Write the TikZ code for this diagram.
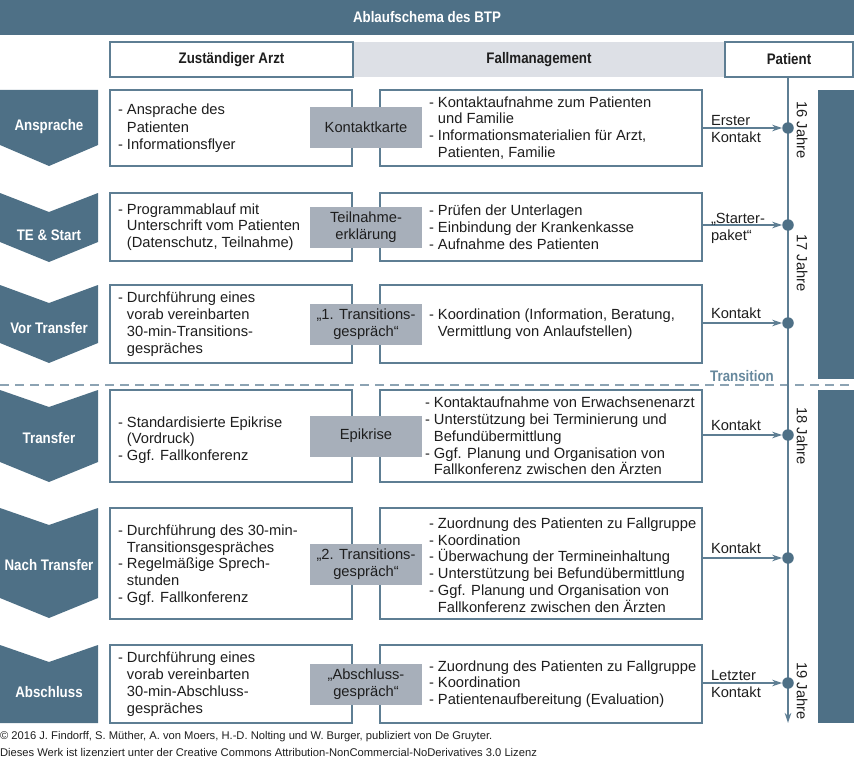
\documentclass[tikz,border=0pt]{standalone}
\usepackage{fontspec}
\setmainfont{Liberation Sans}
\newfontfamily\condf[FakeStretch=0.87]{Liberation Sans}
\usetikzlibrary{arrows.meta}
\definecolor{sb}{HTML}{4E7086}
\definecolor{bordc}{HTML}{5E7E93}
\definecolor{labgray}{HTML}{A7AFBA}
\definecolor{bandgray}{HTML}{DDE0E6}
\definecolor{dashc}{HTML}{8CA3B3}
\definecolor{transc}{HTML}{66889D}
\definecolor{txtc}{HTML}{1E1E1E}
\newcommand\bodyf{\fontsize{14.7}{16.8}\selectfont}
\newcommand\headf{\condf\bfseries\fontsize{15.3}{17}\selectfont}
\newcommand\footf{\fontsize{11.2}{12}\selectfont}
\newcommand\ind{\hphantom{-\ }}
\begin{document}
\begin{tikzpicture}[x=1pt,y=-1pt,
  every node/.style={inner sep=0pt, outer sep=0pt, text=txtc},
  box/.style={draw=bordc, line width=1.1pt, fill=white, anchor=north west},
  lbl/.style={fill=labgray, minimum width=112pt, minimum height=41pt, align=center, font=\bodyf},
  txt/.style={anchor=west, align=left, font=\bodyf},
  chevf/.style={font=\headf, text=white},
  dot/.style={circle, fill=sb, minimum size=11.5pt},
  arr/.style={draw=bordc, line width=1.1pt, -{Stealth[length=10pt,width=6.5pt]}},
  agef/.style={font=\bodyf, rotate=-90},
  klbl/.style={font=\bodyf, align=left}]
\useasboundingbox (0,0) rectangle (854,765);

% title
\fill[sb] (0,0) rectangle (854,35);
\node[font=\headf, text=white] (title) at (427,17.5) {Ablaufschema des BTP};

% header
\fill[bandgray] (353,42) rectangle (725,77);
\node[box, minimum width=243pt, minimum height=35pt, font=\headf] (hA) at (110,42) {Zuständiger Arzt};
\node[font=\headf] (hF) at (539,59.5) {Fallmanagement};
\node[box, minimum width=128pt, minimum height=35pt, font=\headf] (Pat) at (725,42) {Patient};

% right dark bars
\fill[sb] (818,90) rectangle (854,379);
\fill[sb] (818,390) rectangle (854,723);

% dashed transition line
\draw[dashc, line width=1.5pt, dash pattern=on 9pt off 6pt] (0,385) -- (854,385);
\node[font=\headf, text=transc] (trans) at (742,376) {Transition};

% timeline
\coordinate (vend) at (788,723);
\draw[draw=bordc, line width=1.1pt, -{Stealth[length=10pt,width=6.5pt]}] (Pat.south -| vend) -- (vend);

% chevrons
\fill[sb] (0,90) -- (98,90) -- (98,145) -- (49,166) -- (0,145) -- cycle;
\node[chevf] (c1) at (49,127) {Ansprache};
\fill[sb] (0,193) -- (49,212) -- (98,193) -- (98,242) -- (49,262) -- (0,242) -- cycle;
\node[chevf] (c2) at (49,235) {TE \& Start};
\fill[sb] (0,285) -- (49,303) -- (98,285) -- (98,343) -- (49,363) -- (0,343) -- cycle;
\node[chevf] (c3) at (49,328) {Vor Transfer};
\fill[sb] (0,390) -- (49,407) -- (98,390) -- (98,462) -- (49,482) -- (0,462) -- cycle;
\node[chevf] (c5) at (49,438) {Transfer};
\fill[sb] (0,508) -- (49,525) -- (98,508) -- (98,598) -- (49,618) -- (0,598) -- cycle;
\node[chevf] (c6) at (49,565) {Nach Transfer};
\fill[sb] (0,645) -- (49,662) -- (98,645) -- (98,723) -- (0,723) -- cycle;
\node[chevf] (c7) at (49,692) {Abschluss};

% ---------- row 1
\node[box, minimum width=242pt, minimum height=76pt] (L1) at (110,90) {};
\node[box, minimum width=322pt, minimum height=76pt] (R1) at (380,90) {};
\node[lbl] (K1) at (366,127.5) {Kontaktkarte};
\node[txt] (L1t) at (118,128) {- Ansprache des\\[2pt]\ind Patienten\\- Informationsflyer};
\node[txt] (R1t) at (429,128) {- Kontaktaufnahme zum Patienten\\\ind und Familie\\- Informationsmaterialien für Arzt,\\\ind Patienten, Familie};
\node[dot] (D1) at (788,128) {};
\draw[arr] (R1.east |- D1) -- (D1);
\node[klbl, anchor=west] (k1) at (711,129) {Erster\\Kontakt};
\node[agef] (a16) at (802,130) {16 Jahre};

% ---------- row 2
\node[box, minimum width=242pt, minimum height=68pt] (L2) at (110,193) {};
\node[box, minimum width=322pt, minimum height=68pt] (R2) at (380,193) {};
\node[lbl] (K2) at (366,227) {Teilnahme-\\erklärung};
\node[txt] (L2t) at (118,227) {- Programmablauf mit\\\ind Unterschrift vom Patienten\\\ind (Datenschutz, Teilnahme)};
\node[txt] (R2t) at (429,227) {- Prüfen der Unterlagen\\- Einbindung der Krankenkasse\\- Aufnahme des Patienten};
\node[dot] (D2) at (788,225) {};
\draw[arr] (R2.east |- D2) -- (D2);
\node[klbl, anchor=west] (k2) at (711,228) {„Starter-\\paket“};
\node[agef] (a17) at (802,263) {17 Jahre};

% ---------- row 3
\node[box, minimum width=242pt, minimum height=78pt] (L3) at (110,285) {};
\node[box, minimum width=322pt, minimum height=78pt] (R3) at (380,285) {};
\node[lbl] (K3) at (366,324) {„1. Transitions-\\gespräch“};
\node[txt] (L3t) at (118,324) {- Durchführung eines\\\ind vorab vereinbarten\\\ind 30-min-Transitions-\\\ind gespräches};
\node[txt] (R3t) at (429,324) {- Koordination (Information, Beratung,\\\ind Vermittlung von Anlaufstellen)};
\node[dot] (D3) at (788,323) {};
\draw[arr] (R3.east |- D3) -- (D3);
\node[klbl, anchor=south west] (k3) at (711,319) {Kontakt};

% ---------- row 5
\node[box, minimum width=242pt, minimum height=92pt] (L5) at (110,390) {};
\node[box, minimum width=322pt, minimum height=92pt] (R5) at (380,390) {};
\node[lbl] (K5) at (366,436) {Epikrise};
\node[txt] (L5t) at (118,440) {- Standardisierte Epikrise\\\ind (Vordruck)\\- Ggf. Fallkonferenz};
\node[txt] (R5t) at (425,436) {- Kontaktaufnahme von Erwachsenenarzt\\- Unterstützung bei Terminierung und\\\ind Befundübermittlung\\- Ggf. Planung und Organisation von\\\ind Fallkonferenz zwischen den Ärzten};
\node[dot] (D5) at (788,435) {};
\draw[arr] (R5.east |- D5) -- (D5);
\node[klbl, anchor=south west] (k5) at (711,431) {Kontakt};
\node[agef] (a18) at (802,436) {18 Jahre};

% ---------- row 6
\node[box, minimum width=242pt, minimum height=111pt] (L6) at (110,508) {};
\node[box, minimum width=322pt, minimum height=111pt] (R6) at (380,508) {};
\node[lbl] (K6) at (366,564) {„2. Transitions-\\gespräch“};
\node[txt] (L6t) at (118,565) {- Durchführung des 30-min-\\\ind Transitionsgespräches\\- Regelmäßige Sprech-\\\ind stunden\\- Ggf. Fallkonferenz};
\node[txt] (R6t) at (429,565) {- Zuordnung des Patienten zu Fallgruppe\\- Koordination\\- Überwachung der Termineinhaltung\\- Unterstützung bei Befundübermittlung\\- Ggf. Planung und Organisation von\\\ind Fallkonferenz zwischen den Ärzten};
\node[dot] (D6) at (788,558) {};
\draw[arr] (R6.east |- D6) -- (D6);
\node[klbl, anchor=south west] (k6) at (711,554) {Kontakt};

% ---------- row 7
\node[box, minimum width=242pt, minimum height=78pt] (L7) at (110,645) {};
\node[box, minimum width=322pt, minimum height=78pt] (R7) at (380,645) {};
\node[lbl] (K7) at (366,684) {„Abschluss-\\gespräch“};
\node[txt] (L7t) at (118,684) {- Durchführung eines\\\ind vorab vereinbarten\\\ind 30-min-Abschluss-\\\ind gespräches};
\node[txt] (R7t) at (429,684) {- Zuordnung des Patienten zu Fallgruppe\\- Koordination\\- Patientenaufbereitung (Evaluation)};
\node[dot] (D7) at (788,683) {};
\draw[arr] (R7.east |- D7) -- (D7);
\node[klbl, anchor=west] (k7) at (711,684) {Letzter\\Kontakt};
\node[agef] (a19) at (802,691) {19 Jahre};

% footer
\node[anchor=west, font=\footf] (f1) at (0,737) {© 2016 J. Findorff, S. Müther, A. von Moers, H.-D. Nolting und W. Burger, publiziert von De Gruyter.};
\node[anchor=west, font=\footf] (f2) at (0,752) {Dieses Werk ist lizenziert unter der Creative Commons Attribution-NonCommercial-NoDerivatives 3.0 Lizenz};
\end{tikzpicture}
\end{document}
